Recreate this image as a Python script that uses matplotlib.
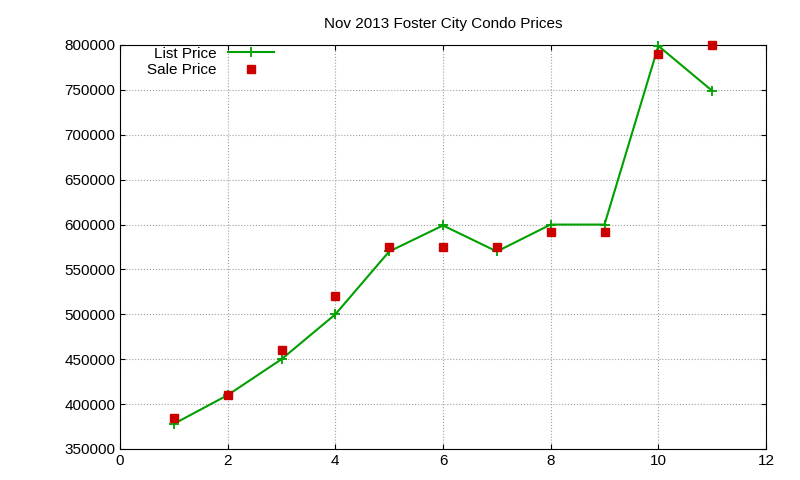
import matplotlib
matplotlib.use("Agg")
import matplotlib.pyplot as plt

plt.rcParams['font.family'] = ['Liberation Sans', 'DejaVu Sans']

x = [1, 2, 3, 4, 5, 6, 7, 8, 9, 10, 11]
list_price = [378000, 410000, 450000, 500000, 570000, 599000, 570000, 600000, 600000, 799000, 749000]
sale_price = [385000, 410000, 460000, 520000, 575000, 575000, 575000, 592000, 592000, 790000, 800000]

fig = plt.figure(figsize=(8, 4.8), dpi=100)
ax = fig.add_axes([120/800, 1-449/480, 646/800, 404/480])
ax.plot(x, list_price, color="#00a000", lw=1.5, marker="+", ms=7, mew=1.3, label="List Price", clip_on=False, zorder=3)
ax.plot(x, sale_price, ls="none", marker="s", color="#cc0000", ms=6, label="Sale Price", clip_on=False, zorder=4)
ax.set_xlim(0, 12)
ax.set_ylim(350000, 800000)
ax.set_xticks(range(0, 13, 2))
ax.set_yticks(range(350000, 800001, 50000))
ax.grid(True, color="#a0a0a0", ls=":", lw=0.8)
ax.tick_params(direction="in", labelsize=11, top=True, right=True)
ax.set_title("Nov 2013 Foster City Condo Prices", fontsize=11, pad=12)
ax.set_ylabel("Price", fontsize=11, labelpad=45)
ax.legend(loc="upper left", frameon=False, fontsize=11, markerfirst=False,
          bbox_to_anchor=(0.02, 1.03), handlelength=3, labelspacing=0.15)
fig.savefig("out.png", dpi=100)
